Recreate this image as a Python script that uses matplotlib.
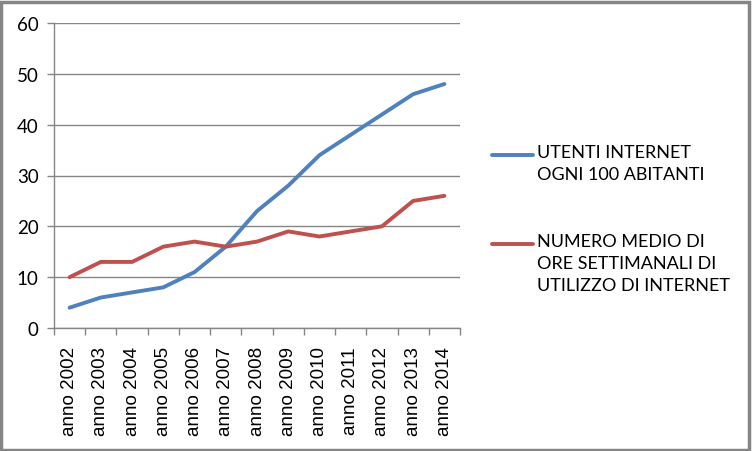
import matplotlib.pyplot as plt
from matplotlib.lines import Line2D
from matplotlib.patches import Rectangle

# -------------------------
# Data
# -------------------------

anni = ["anno 2002", "anno 2003", "anno 2004", "anno 2005", "anno 2006",
        "anno 2007", "anno 2008", "anno 2009", "anno 2010", "anno 2011",
        "anno 2012", "anno 2013", "anno 2014"]

utenti = [4, 6, 7, 8, 11, 16, 23, 28, 34, 38, 42, 46, 48]
ore = [10, 13, 13, 16, 17, 16, 17, 19, 18, 19, 20, 25, 26]

etichette = ["UTENTI INTERNET\nOGNI 100 ABITANTI",
             "NUMERO MEDIO DI\nORE SETTIMANALI DI\nUTILIZZO DI INTERNET"]

blu = "#4F81BD"
rosso = "#C0504D"
grigio = "#868686"

# -------------------------
# Figure
# -------------------------

W, H = 752, 452
fig = plt.figure(figsize=(W / 100, H / 100), dpi=100)
ax = fig.add_axes([54 / W, 1 - 329 / H, (460 - 54) / W, (329 - 24) / H])

x = list(range(len(anni)))
ax.plot(x, utenti, color=blu, lw=2.8, solid_capstyle="round", zorder=3)
ax.plot(x, ore, color=rosso, lw=2.8, solid_capstyle="round", zorder=3)

ax.set_xlim(-0.5, len(anni) - 0.5)
ax.set_ylim(0, 60)
ax.set_yticks(range(0, 61, 10))
ax.grid(axis="y", color=grigio, lw=1)
ax.set_axisbelow(True)

for s in ["top", "right"]:
    ax.spines[s].set_visible(False)
for s in ["left", "bottom"]:
    ax.spines[s].set_color(grigio)
    ax.spines[s].set_linewidth(1)

ax.set_xticks(x)
ax.set_xticklabels(anni, rotation=90, fontfamily="Liberation Sans", fontsize=13.5)
ax.set_xticks([i - 0.5 for i in range(len(anni) + 1)], minor=True)
ax.tick_params(axis="x", which="major", length=0, pad=13)
ax.tick_params(axis="x", which="minor", length=5, color=grigio, width=1)
ax.tick_params(axis="y", length=5, color=grigio, width=1, pad=6)
for t in ax.get_yticklabels():
    t.set_fontfamily("Lato")
    t.set_fontsize(13.5)

# -------------------------
# Legend (manual, Excel style)
# -------------------------

for col, lab, yy in [(blu, etichette[0], 156), (rosso, etichette[1], 245)]:
    fig.add_artist(Line2D([492 / W, 533 / W], [1 - yy / H, 1 - yy / H],
                          color=col, lw=2.8, solid_capstyle="round",
                          transform=fig.transFigure))
    fig.text(537 / W, 1 - (yy - 11) / H, lab, fontfamily="Lato", fontsize=13,
             va="top", ha="left", linespacing=1.45)

# border
fig.add_artist(Rectangle((1.5 / W, 1.5 / H), (W - 5) / W, (H - 4) / H,
                         fill=False, edgecolor=grigio, lw=2.5,
                         transform=fig.transFigure))

fig.savefig("out.png", dpi=100)
